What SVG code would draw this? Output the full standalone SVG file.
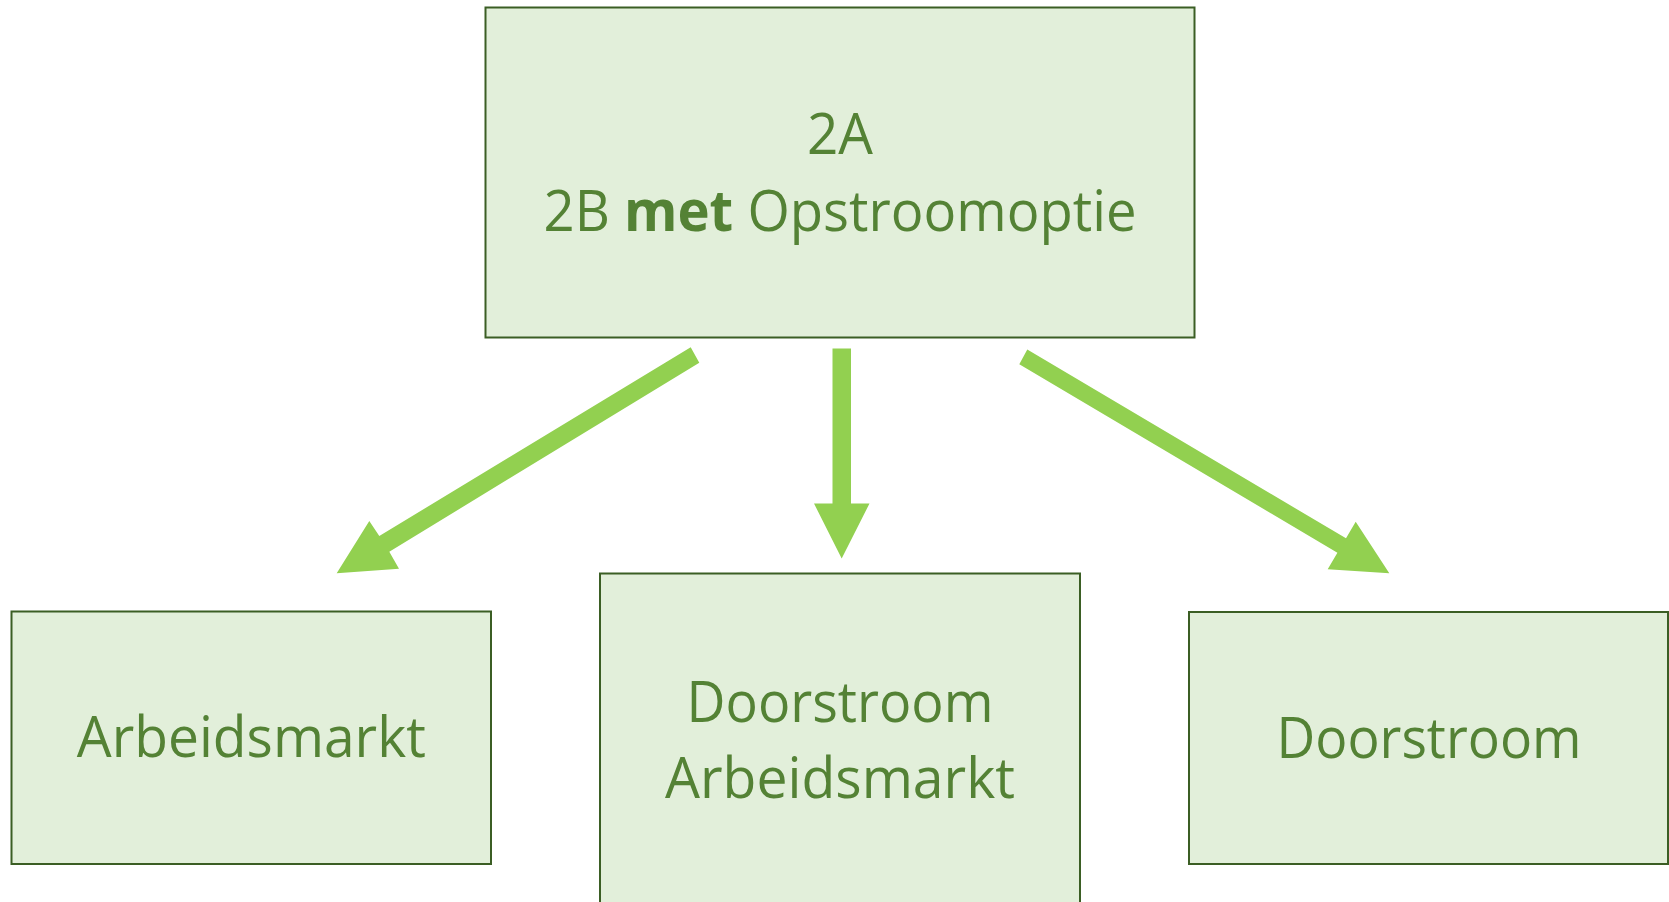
<svg xmlns="http://www.w3.org/2000/svg" width="1669" height="902" viewBox="0 0 1669 902">
<style>
.box{fill:#E2EFDA;stroke:#3B5E24;stroke-width:2}
.lbl{font-family:"Open Sans","Liberation Sans",sans-serif;font-size:57px;fill:#548235;text-anchor:middle}
.arr{fill:#92D050}
</style>
<rect width="1669" height="902" fill="#FFFFFF"/>
<g id="top">
<rect class="box" x="485.5" y="7.5" width="709" height="330"/>
<text class="lbl" x="840" y="154" textLength="66" lengthAdjust="spacingAndGlyphs">2A</text>
<text class="lbl" x="840" y="231" textLength="593" lengthAdjust="spacingAndGlyphs">2B <tspan font-weight="bold">met</tspan> Opstroomoptie</text>
</g>
<g id="left">
<rect class="box" x="11.5" y="611.5" width="479.5" height="252.5"/>
<text class="lbl" x="251.3" y="757" textLength="349" lengthAdjust="spacingAndGlyphs">Arbeidsmarkt</text>
</g>
<g id="middle">
<rect class="box" x="600" y="573.5" width="480" height="340"/>
<text class="lbl" x="840" y="721.7" textLength="307" lengthAdjust="spacingAndGlyphs">Doorstroom</text>
<text class="lbl" x="840" y="797.7" textLength="350" lengthAdjust="spacingAndGlyphs">Arbeidsmarkt</text>
</g>
<g id="right">
<rect class="box" x="1189" y="612" width="479" height="252"/>
<text class="lbl" x="1429" y="757.7" textLength="305" lengthAdjust="spacingAndGlyphs">Doorstroom</text>
</g>
<g id="connectors">
<polygon class="arr" points="690.7,347.3 699.3,362.7 389.3,551.7 399,568.7 336.7,573.3 369.3,521 379.3,536"/>
<polygon class="arr" points="832.5,348.5 851,348.5 851,503.5 869.5,503.5 841.7,558.5 814,503.5 832.5,503.5"/>
<polygon class="arr" points="1027.3,349.6 1346,538.3 1355.7,521.7 1389.3,573.3 1327.7,569.3 1337.4,552.7 1019.3,364.3"/>
</g>
</svg>
